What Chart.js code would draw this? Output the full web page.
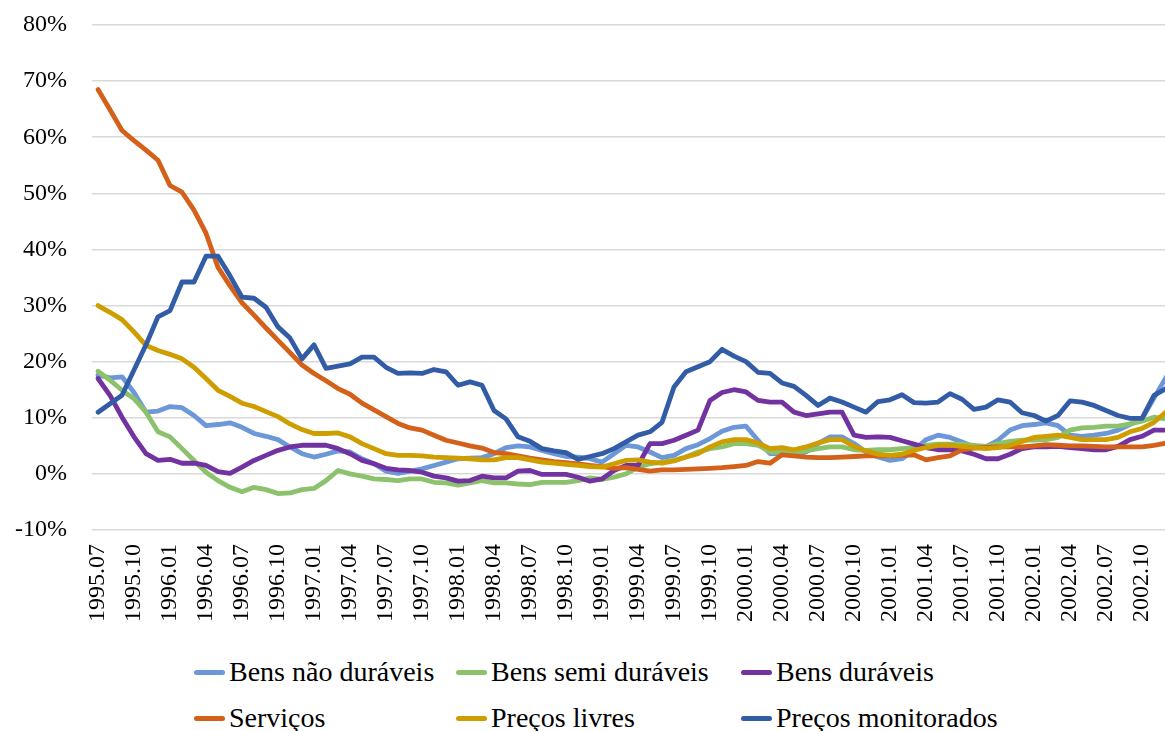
<!DOCTYPE html>
<html>
<head>
<meta charset="utf-8">
<script src="https://cdn.jsdelivr.net/npm/chart.js@4"></script>
<style>
  html, body { margin: 0; padding: 0; background: #fff; overflow: hidden; }
  body { width: 1165px; height: 731px; position: relative; }
  #wrap { position: absolute; left: 0; top: 0; width: 1172px; height: 640px; }
  .legenda { position: absolute; left: 0; top: 0; font-family: "Liberation Serif", Tinos, "Times New Roman", Times, "DejaVu Serif", serif; font-size: 28px; color: #000; }
  .item { position: absolute; display: flex; align-items: center; white-space: nowrap; height: 30px; }
  .item i { display: inline-block; width: 31px; height: 5px; border-radius: 3px; margin: 0 4px 0 2px; }
</style>
</head>
<body>
<div id="wrap"><canvas id="grafico"></canvas></div>
<div class="legenda" id="legenda"></div>
<script>
const meses = [
  "1995.07","1995.08","1995.09","1995.10","1995.11","1995.12",
  "1996.01","1996.02","1996.03","1996.04","1996.05","1996.06","1996.07","1996.08","1996.09","1996.10","1996.11","1996.12",
  "1997.01","1997.02","1997.03","1997.04","1997.05","1997.06","1997.07","1997.08","1997.09","1997.10","1997.11","1997.12",
  "1998.01","1998.02","1998.03","1998.04","1998.05","1998.06","1998.07","1998.08","1998.09","1998.10","1998.11","1998.12",
  "1999.01","1999.02","1999.03","1999.04","1999.05","1999.06","1999.07","1999.08","1999.09","1999.10","1999.11","1999.12",
  "2000.01","2000.02","2000.03","2000.04","2000.05","2000.06","2000.07","2000.08","2000.09","2000.10","2000.11","2000.12",
  "2001.01","2001.02","2001.03","2001.04","2001.05","2001.06","2001.07","2001.08","2001.09","2001.10","2001.11","2001.12",
  "2002.01","2002.02","2002.03","2002.04","2002.05","2002.06","2002.07","2002.08","2002.09","2002.10","2002.11","2002.12"
];

// variação em 12 meses, %
const bensNaoDuraveis = [
  17.6, 17.1, 17.3, 14.5, 11.0, 11.2, 12.0, 11.8, 10.4, 8.6,
  8.8, 9.1, 8.3, 7.2, 6.7, 6.1, 4.8, 3.6, 3.0, 3.5,
  4.1, 3.9, 2.7, 1.8, 0.5, 0.1, 0.5, 0.9, 1.5, 2.1,
  2.7, 2.8, 2.9, 3.6, 4.7, 5.0, 4.8, 4.2, 3.6, 3.1,
  3.0, 2.7, 2.1, 3.6, 5.1, 4.8, 3.9, 2.9, 3.3, 4.5,
  5.2, 6.3, 7.6, 8.3, 8.5, 6.0, 3.6, 3.6, 3.4, 3.9,
  5.4, 6.6, 6.6, 5.4, 3.9, 3.0, 2.4, 2.7, 4.2, 6.1,
  6.9, 6.5, 5.7, 4.8, 4.8, 6.0, 7.8, 8.6, 8.8, 9.1,
  8.6, 6.9, 6.7, 6.9, 7.2, 7.8, 8.8, 9.8, 13.5, 17.2
];
const bensSemiDuraveis = [
  18.3, 16.7, 14.9, 13.4, 11.0, 7.5, 6.6, 4.5, 2.4, 0.3,
  -1.2, -2.4, -3.2, -2.4, -2.8, -3.5, -3.4, -2.8, -2.6, -1.2,
  0.6, 0.0, -0.4, -0.9, -1.0, -1.2, -0.9, -0.9, -1.5, -1.6,
  -2.0, -1.6, -1.2, -1.6, -1.6, -1.8, -1.9, -1.5, -1.5, -1.5,
  -1.2, -0.7, -1.0, -0.6, 0.0, 1.2, 1.8, 2.1, 2.4, 3.0,
  3.9, 4.5, 4.8, 5.4, 5.4, 5.1, 3.9, 3.9, 3.8, 4.1,
  4.5, 4.8, 4.8, 4.3, 4.2, 4.3, 4.3, 4.5, 4.7, 5.1,
  5.3, 5.3, 5.3, 5.1, 4.9, 5.4, 5.8, 6.0, 6.0, 6.1,
  6.5, 7.8, 8.2, 8.3, 8.5, 8.5, 8.9, 9.4, 10.1, 9.8
];
const bensDuraveis = [
  17.0, 14.0, 10.1, 6.6, 3.6, 2.4, 2.6, 1.9, 1.9, 1.5,
  0.4, 0.1, 1.2, 2.4, 3.3, 4.2, 4.8, 5.1, 5.1, 5.1,
  4.5, 3.6, 2.4, 1.8, 1.0, 0.7, 0.6, 0.3, -0.4, -0.7,
  -1.3, -1.2, -0.4, -0.7, -0.7, 0.5, 0.6, -0.1, -0.1, -0.1,
  -0.6, -1.3, -0.9, 0.6, 1.5, 1.5, 5.4, 5.4, 6.0, 6.9,
  7.8, 13.1, 14.5, 15.0, 14.6, 13.1, 12.8, 12.8, 11.0, 10.4,
  10.7, 11.0, 11.0, 6.9, 6.5, 6.6, 6.5, 5.9, 5.3, 4.7,
  4.3, 4.3, 4.1, 3.5, 2.7, 2.7, 3.5, 4.5, 4.8, 4.8,
  4.9, 4.7, 4.5, 4.3, 4.3, 4.9, 6.1, 6.7, 7.8, 7.8
];
const servicos = [
  68.5, 64.9, 61.2, 59.4, 57.7, 55.9, 51.4, 50.2, 47.0, 42.9,
  36.8, 33.5, 30.5, 28.3, 26.0, 23.8, 21.6, 19.4, 17.9, 16.6,
  15.2, 14.2, 12.6, 11.4, 10.2, 9.0, 8.2, 7.8, 6.9, 6.0,
  5.5, 5.0, 4.6, 3.8, 3.6, 3.2, 2.8, 2.5, 2.2, 2.0,
  1.8, 1.5, 1.3, 1.0, 1.1, 0.8, 0.5, 0.7, 0.7, 0.8,
  0.9, 1.0, 1.1, 1.3, 1.5, 2.2, 1.9, 3.4, 3.2, 3.0,
  2.9, 2.9, 3.0, 3.1, 3.2, 3.2, 3.2, 3.3, 3.4, 2.5,
  2.9, 3.2, 4.3, 4.6, 4.7, 4.8, 4.8, 4.8, 5.0, 5.2,
  5.1, 5.0, 5.0, 4.9, 4.8, 4.8, 4.8, 4.8, 5.1, 5.5
];
const precosLivres = [
  30.0, 28.8, 27.5, 25.3, 22.9, 22.0, 21.3, 20.5, 19.0, 17.0,
  14.9, 13.8, 12.6, 12.0, 11.1, 10.2, 8.9, 7.9, 7.2, 7.2,
  7.3, 6.6, 5.4, 4.5, 3.6, 3.3, 3.3, 3.2, 3.0, 2.9,
  2.8, 2.7, 2.5, 2.5, 2.9, 2.9, 2.5, 2.1, 1.9, 1.7,
  1.5, 1.3, 1.2, 1.8, 2.4, 2.5, 2.1, 1.9, 2.3, 3.0,
  3.6, 4.8, 5.7, 6.1, 6.1, 5.5, 4.5, 4.7, 4.3, 4.8,
  5.5, 6.1, 6.1, 4.9, 4.1, 3.5, 3.3, 3.5, 4.2, 4.7,
  5.1, 5.1, 4.9, 4.7, 4.5, 4.7, 5.1, 5.8, 6.5, 6.7,
  6.9, 6.5, 6.1, 6.1, 6.1, 6.5, 7.5, 8.1, 9.2, 11.0
];
const precosMonitorados = [
  11.0, 12.5, 14.0, 18.5, 23.0, 28.0, 29.1, 34.2, 34.2, 38.8,
  38.8, 35.3, 31.5, 31.3, 29.7, 26.2, 24.2, 20.5, 23.0, 18.8,
  19.2, 19.6, 20.8, 20.8, 19.0, 17.9, 18.0, 17.9, 18.6, 18.2,
  15.8, 16.4, 15.8, 11.3, 9.8, 6.6, 5.8, 4.5, 4.1, 3.8,
  2.6, 3.1, 3.6, 4.5, 5.7, 6.9, 7.5, 9.2, 15.5, 18.2,
  19.1, 20.0, 22.2, 21.0, 20.0, 18.1, 17.9, 16.2, 15.6, 14.0,
  12.2, 13.5, 12.8, 11.9, 11.0, 12.9, 13.2, 14.1, 12.7, 12.6,
  12.8, 14.3, 13.3, 11.5, 11.9, 13.2, 12.8, 10.9, 10.4, 9.4,
  10.4, 13.0, 12.8, 12.2, 11.3, 10.4, 9.9, 9.9, 14.0, 15.2
];

const series = [
  { nome: "Bens não duráveis", dados: bensNaoDuraveis, cor: "#6C97D8" },
  { nome: "Bens semi duráveis", dados: bensSemiDuraveis, cor: "#8CC26C" },
  { nome: "Bens duráveis", dados: bensDuraveis, cor: "#7232A0" },
  { nome: "Serviços", dados: servicos, cor: "#D4611A" },
  { nome: "Preços livres", dados: precosLivres, cor: "#CE9D00" },
  { nome: "Preços monitorados", dados: precosMonitorados, cor: "#335CA6" }
];

const fonte = '"Liberation Serif", Tinos, "Times New Roman", Times, "DejaVu Serif", serif';

const ctx = document.getElementById("grafico").getContext("2d");
const grafico = new Chart(ctx, {
  type: "line",
  data: {
    labels: meses,
    datasets: series.map((s, i) => ({
      label: s.nome,
      data: s.dados,
      borderColor: s.cor,
      backgroundColor: s.cor,
      borderWidth: 4.8,
      pointRadius: 0,
      tension: 0,
      fill: false,
      borderCapStyle: "round",
      borderJoinStyle: "round",
      order: series.length - i
    }))
  },
  options: {
    responsive: true,
    maintainAspectRatio: false,
    animation: false,
    layout: { padding: { top: 25, left: 0, right: 0, bottom: 0 } },
    plugins: {
      legend: { display: false },
      tooltip: { enabled: false }
    },
    scales: {
      x: {
        offset: true,
        grid: { display: false, drawTicks: false },
        border: { display: false },
        ticks: {
          autoSkip: false,
          maxRotation: 90,
          minRotation: 90,
          padding: 14,
          color: "#000",
          font: { family: fonte, size: 24 },
          callback: function (value, index) {
            return index % 3 === 0 ? meses[index] : "";
          }
        },
        afterFit: (scale) => {
          scale.height = 110;
          scale.paddingLeft = 0;
          scale.paddingRight = 0;
        }
      },
      y: {
        min: -10,
        max: 80,
        grid: { color: "#D9D9D9", lineWidth: 1.5, drawTicks: false },
        border: { display: false },
        ticks: {
          stepSize: 10,
          padding: 25,
          color: "#000",
          font: { family: fonte, size: 24 },
          callback: (v) => v + "%"
        },
        afterFit: (scale) => {
          scale.width = 92;
          scale.paddingTop = 0;
          scale.paddingBottom = 0;
        }
      }
    }
  }
});

// legenda em três colunas, como no original
const posLegenda = [
  [192, 657], [454, 657], [739, 657],
  [192, 703], [454, 703], [739, 703]
];
const legenda = document.getElementById("legenda");
series.forEach((s, i) => {
  const item = document.createElement("div");
  item.className = "item";
  item.style.left = posLegenda[i][0] + "px";
  item.style.top = posLegenda[i][1] + "px";
  item.innerHTML = '<i style="background:' + s.cor + '"></i><span>' + s.nome + '</span>';
  legenda.appendChild(item);
});
</script>
</body>
</html>
